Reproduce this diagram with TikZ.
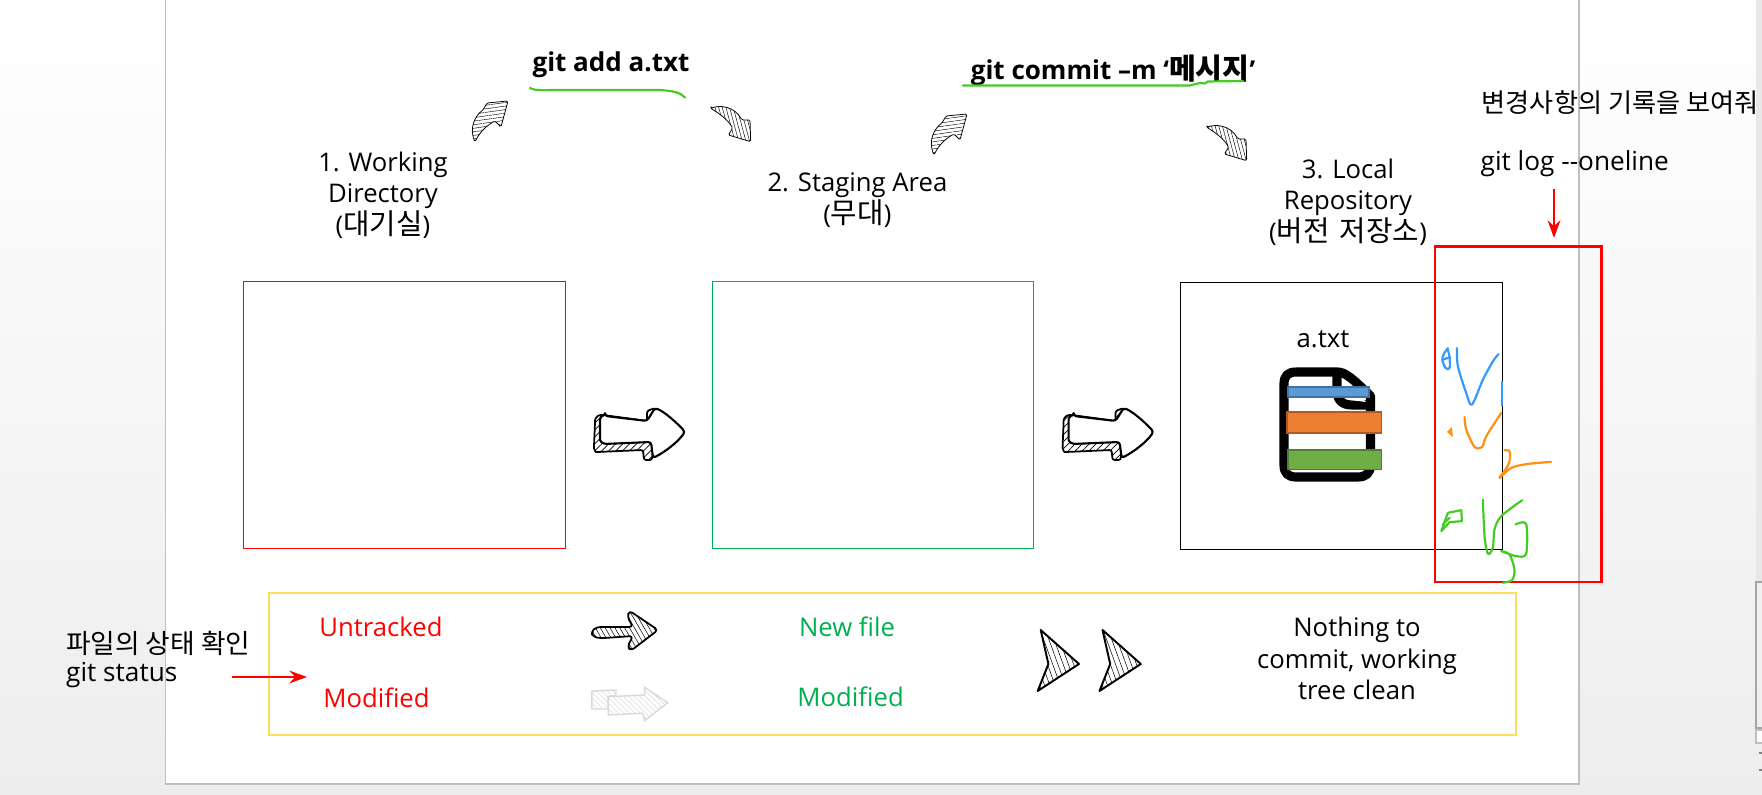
\documentclass[tikz,border=0pt]{standalone}
\usepackage{fontspec}
\setmainfont{Open Sans}
\newfontfamily\kr{Noto Sans CJK KR}
\newfontfamily\krwide[Scale=1.12, WordSpace=1.6]{Noto Sans CJK KR}
\usetikzlibrary{arrows.meta, patterns.meta}

\definecolor{pageline}{HTML}{BFBFBF}
\definecolor{boxgreen}{HTML}{00B050}
\definecolor{boxyellow}{HTML}{FFDD5C}
\definecolor{penblue}{HTML}{3399FF}
\definecolor{penorange}{HTML}{FF9012}
\definecolor{pengreen}{HTML}{44CC22}

\begin{document}
\begin{tikzpicture}[
    x=0.01cm, y=-0.01cm,
    stagebox/.style={
        draw,
        line width=0.27pt,
        minimum width=3.21cm,
        minimum height=2.66cm,
        inner sep=0pt,
    },
    stagetext/.style={
        font=\fontsize{7.3}{8.96}\selectfont,
        align=center,
        inner sep=0pt,
    },
    sidetext/.style={
        font=\fontsize{7.45}{8.5}\selectfont,
        anchor=west,
        inner sep=0pt,
    },
    cmdtext/.style={
        font=\fontsize{7.4}{9}\selectfont\bfseries,
        inner sep=0pt,
    },
    redarrow/.style={
        red,
        line width=0.6pt,
        -{Stealth[length=5pt, width=3.6pt]},
    },
    penline/.style={
        line width=0.62pt,
        line cap=round,
        line join=round,
    },
    hatch/.style={
        draw=black,
        line width=#1,
        line join=round,
    },
    upcurve/.pic={
        \draw[hatch=0.22pt, rounded corners=0.4pt, pattern={Lines[angle=8, distance=1pt, line width=0.13pt]}]
            (3,42) .. controls (-3,28) and (3,16) .. (11,10) -- (15,3) -- (36,1) -- (29,27)
            -- (23,21) .. controls (14,26) and (8,32) .. cycle;
    },
    downcurve/.pic={
        \draw[hatch=0.22pt, rounded corners=0.4pt, pattern={Lines[angle=105, distance=1pt, line width=0.13pt]}]
            (0.7,2.3) .. controls (10,-1) and (24,0) .. (32,14) -- (40,14) -- (40.7,35.7)
            -- (18.3,29) -- (22.7,22.3) .. controls (18,14) and (10,8) .. cycle;
    },
    bigarrow/.pic={
        \draw[hatch=0.5pt, rounded corners=0.6pt, pattern={Lines[angle=45, distance=1.4pt, line width=0.2pt]}]
            (33,25) .. controls (27,25) and (25,29) .. (25,33) -- (24,56) .. controls (24,60) and (26,62) .. (28,62)
            -- (73,60) -- (74,70) -- (82,70) -- (85,40) -- (85,18) -- (77,21) -- (77,31) -- cycle;
        \draw[hatch=0.6pt, fill=white, rounded corners=0.8pt]
            (35,26) -- (77,31) -- (85,18) .. controls (95,22) and (108,34) .. (115,41.7)
            .. controls (108,52) and (95,62) .. (83,68) -- (81,52) -- (34,54)
            .. controls (31,52) and (30,50) .. (30,47) -- (30,32) .. controls (30,28) and (32,26) .. cycle;
    }
]
    \useasboundingbox (0,0) rectangle (1762,795);

    % Window and page
    \shade[top color=white, bottom color=black!7] (0,0) rectangle (1762,795);
    \fill[white] (165.5,0) rectangle (1579,784);
    \draw[pageline, line width=0.4pt] (165.5,0) -- (165.5,784) -- (1579,784) -- (1579,0);

    % Stage boxes
    \node[stagebox, draw=red] (workdir) at (404.5,415) {};
    \node[stagebox, draw=boxgreen] (staging) at (873.3,415) {};
    \node[stagebox, draw=black] (localrepo) at (1341.5,416) {};
    \node[draw=red, line width=0.75pt, minimum width=1.665cm, minimum height=3.35cm, inner sep=0pt] (logbox) at (1518.3,414.3) {};
    \node[draw=boxyellow, line width=0.7pt, minimum width=12.46cm, minimum height=1.42cm, inner sep=0pt] (statusbox) at (892.5,664) {};

    % Stage labels
    \node[stagetext] (worklabel) at (383,195) {1. Working\\Directory\\({\krwide 대기실})};
    \node[stagetext] (stagelabel) at (857.4,200) {2. Staging Area\\({\krwide 무대})};
    \node[stagetext] (repolabel) at (1348,202) {3. Local\\Repository\\({\krwide 버전 저장소})};

    % Commands
    \node[cmdtext] (addcmd) at (611,65) {git add a.txt};
    \node[cmdtext] (commitcmd) at (1113,70) {git commit --m ‘{\krwide 메시지}’};
    \coordinate (addstart) at (530,88);
    \coordinate (addend) at (685,97.5);
    \coordinate (commitstart) at (963,85.5);
    \coordinate (commitend) at (1243,81);
    \draw[penline, pengreen] (addstart) .. controls (535,91) and (545,90) .. (560,90) -- (660,90) .. controls (672,91) and (680,92) .. (addend);
    \draw[penline, pengreen] (commitstart) -- (1190,85.5) -- (1200,83) -- (1205,83.5) -- (1208,81.5) -- (commitend);

    % Curved arrows
    \pic at (472,100) {upcurve};
    \pic at (710,106) {downcurve};
    \pic at (931,113) {upcurve};
    \pic at (1206,125) {downcurve};

    % Arrows between boxes
    \pic at (570,390) {bigarrow};
    \pic at (1038.6,390) {bigarrow};

    % File in the repository
    \node[stagetext] (filelabel) at (1323,339) {a.txt};
    \draw[line width=2.6pt, line join=round]
        (1296,372) -- (1337,372) .. controls (1345,372) and (1352,378) .. (1370.5,396) -- (1370.5,465)
        .. controls (1370.5,473) and (1366,477) .. (1358,477) -- (1296,477)
        .. controls (1288,477) and (1284,473) .. (1284,465) -- (1284,384) .. controls (1284,376) and (1288,372) .. (1296,372);
    \draw[line width=2.6pt, line join=round] (1337,372) -- (1337,390) .. controls (1337,400) and (1342,405) .. (1352,405) -- (1370.5,405);
    \draw[fill=white, draw=none] (1343,380) -- (1366,402) -- (1350,400) .. controls (1345,399) and (1343,395) .. (1343,390) -- cycle;
    \draw[fill={rgb,255:red,91;green,155;blue,213}, draw={rgb,255:red,65;green,113;blue,156}, line width=0.3pt] (1288,387) rectangle (1369,397);
    \draw[fill={rgb,255:red,237;green,125;blue,49}, draw={rgb,255:red,174;green,90;blue,33}, line width=0.3pt] (1287,412) rectangle (1381.5,433);
    \draw[fill={rgb,255:red,112;green,173;blue,71}, draw={rgb,255:red,80;green,126;blue,50}, line width=0.3pt] (1288,450) rectangle (1381.5,469.5);

    % Handwriting over the log box
    \begin{scope}[shift={(1200,220)}, x=0.00333cm, y=-0.00333cm]
        \draw[penline, penblue] plot[smooth] coordinates {(745,385) (733,402) (728,420) (738,445) (750,445) (750,415) (745,390)};
        \draw[penline, penblue] (728,420) -- (752,412);
        \draw[penline, penblue] plot[smooth] coordinates {(772,385) (775,440) (800,520) (817,555) (850,480) (880,425) (897,403)};
        \draw[penblue, line width=0.7pt] (907,483) -- (907,560);
        \fill[penorange] (742,637) -- (757,622) -- (760,652) -- cycle;
        \draw[penline, penorange] plot[smooth] coordinates {(795,592) (800,630) (825,682) (848,682) (860,650) (905,580)};
        \draw[penline, penorange] plot[smooth] coordinates {(915,692) (930,695) (930,725) (918,750) (900,775) (935,745) (985,733) (1055,727)};
        \draw[penline, pengreen] (725,935) -- (745,880) -- (785,872) -- (787,905) -- (750,908) -- cycle;
        \draw[penline, pengreen] (730,915) -- (750,895);
        \draw[penline, pengreen] plot[smooth] coordinates {(850,840) (855,950) (865,1003) (880,985) (885,930) (905,890) (968,842)};
        \draw[penline, pengreen] plot[smooth] coordinates {(948,915) (980,913) (980,1003) (950,1010) (905,995) (930,1005) (945,1050) (938,1082) (910,1090)};
    \end{scope}

    % Status texts
    \node[stagetext, text=red] (untracked) at (381,627) {Untracked};
    \node[stagetext, text=red] (modifiedwork) at (376.5,698) {Modified};
    \node[stagetext, text=boxgreen] (newfile) at (847,627) {New file};
    \node[stagetext, text=boxgreen] (modifiedstage) at (850.6,697) {Modified};
    \node[stagetext] (cleantree) at (1357,658.5) {Nothing to\\commit, working\\tree clean};

    % Arrows in the status box
    \draw[hatch=0.5pt, rounded corners=1pt, pattern={Lines[angle=120, distance=1.2pt, line width=0.15pt]}]
        (591,631.7) -- (596.8,627) -- (633,627) -- (627.4,616.7) -- (629.3,610.7) -- (658,630)
        -- (631,650.7) -- (627.4,646.7) -- (633,636) -- (600.6,638.3) -- (593,636.7) -- cycle;
    \draw[draw=black!15, line width=0.4pt, pattern={Lines[angle=135, distance=1.1pt, line width=0.15pt]}, pattern color=black!15]
        (591.8,691) -- (616,690) -- (616,695) -- (608,696.7) -- (608,709) -- (591.8,709) -- cycle;
    \draw[draw=black!15, line width=0.4pt, pattern={Lines[angle=135, distance=1.1pt, line width=0.15pt]}, pattern color=black!15]
        (608.3,696.7) -- (644.6,695) -- (644.6,687.3) -- (667.6,702.7) -- (644.6,720.7) -- (642.7,713.3) -- (608.3,715) -- cycle;
    \foreach \dx in {0,61.8} {
        \draw[hatch=0.55pt, xshift=\dx*0.01cm, pattern={Lines[angle=110, distance=1.4pt, line width=0.15pt]}]
            (1040.7,630) -- (1079,664) -- (1037.7,691) -- (1048.4,664) -- cycle;
    }

    % Notes outside the page
    \node[sidetext, font=\fontsize{7.6}{9}\selectfont] (statusnote) at (65.5,643) {\kr 파일의 상태 확인};
    \node[sidetext] (statuscmd) at (65.5,675) {git status};
    \coordinate (statusfrom) at (232,677);
    \coordinate (statusto) at (307,677);
    \draw[redarrow] (statusfrom) -- (statusto);
    \node[sidetext] (lognote) at (1481,103) {\kr 변경사항의 기록을 보여줘};
    \node[sidetext] (logcmd) at (1480,164) {git log -{}-oneline};
    \coordinate (logfrom) at (1554,189);
    \coordinate (logto) at (1554,238);
    \draw[redarrow] (logfrom) -- (logto);

    % Scroll bar pieces
    \fill[black!9] (1756,0) rectangle (1762,582);
    \draw[black!35, line width=0.4pt, fill=black!6] (1756,582) rectangle (1764,728);
    \draw[black!25, line width=0.4pt, fill=white] (1756,730) rectangle (1764,743);
    \draw[black!50, line width=0.5pt] (1759,753) -- (1762,753) (1759,770) -- (1762,770);
\end{tikzpicture}
\end{document}
